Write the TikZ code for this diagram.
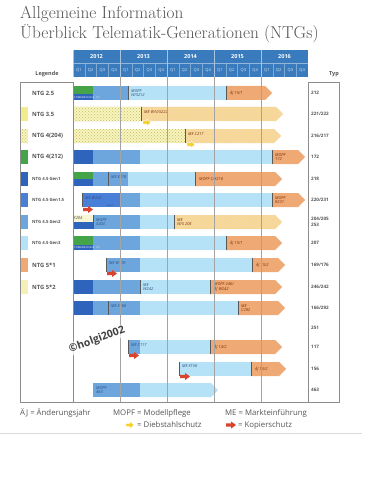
\documentclass[tikz,border=0pt]{standalone}
\usepackage{fontspec}
\setsansfont{Open Sans}
\usetikzlibrary{patterns}

\definecolor{kopfblau}{HTML}{3A7BBE}
\definecolor{gruen}{HTML}{45A447}
\definecolor{dunkelblau}{HTML}{2F64BD}
\definecolor{blau}{HTML}{4A7FD8}
\definecolor{mittelblau}{HTML}{6DA6DD}
\definecolor{hellblau}{HTML}{B5E2F6}
\definecolor{pforange}{HTML}{EFA974}
\definecolor{gelb}{HTML}{F3EC8E}
\definecolor{pfirsich}{HTML}{F7D6A0}
\definecolor{creme}{HTML}{F5EFB8}
\definecolor{kopierrot}{HTML}{D9442F}
\definecolor{diebgelb}{HTML}{F5CF2A}
\definecolor{textgrau}{HTML}{555555}
\definecolor{linie}{HTML}{8C8C8C}
\definecolor{markeblau}{HTML}{2F4C7E}
\definecolor{markerot}{HTML}{7A2F10}

% Balken, Pfeile, Trennstriche
\newcommand{\balken}[4]{\fill[#4] (#1,#3-7) rectangle (#2,#3+7);}
\newcommand{\pfeilbalken}[4]{\fill[#4] (#1,#3-7) -- (#2-7,#3-7) -- (#2,#3) -- (#2-7,#3+7) -- (#1,#3+7) -- cycle;}
\newcommand{\trenner}[2]{\draw[trenn] (#1,#2-7) -- (#1,#2+7);}
\newcommand{\kopierschutz}[2]{\fill[kopierrot] (#1-5,#2-1.7) -- (#1,#2-1.7) -- (#1,#2-3.6) -- (#1+5,#2) -- (#1,#2+3.6) -- (#1,#2+1.7) -- (#1-5,#2+1.7) -- cycle;}
\newcommand{\diebstahl}[2]{\filldraw[diebgelb, draw=white, line width=0.4pt] (#1-4,#2-1.6) -- (#1,#2-1.6) -- (#1,#2-3.5) -- (#1+4,#2) -- (#1,#2+3.5) -- (#1,#2+1.6) -- (#1-4,#2+1.6) -- cycle;}

\tikzset{
  schraffur/.style={pattern=crosshatch dots, pattern color=#1},
  trenn/.style={draw=black!65, line width=0.8pt},
  jahr/.style={font=\sffamily\bfseries\fontsize{5.5}{6}\selectfont, text=white, inner sep=0pt},
  quartal/.style={font=\sffamily\fontsize{4}{5}\selectfont, text=white!85!kopfblau, inner sep=0pt},
  legtext/.style={font=\sffamily\bfseries\fontsize{5.8}{6.5}\selectfont, text=textgrau, anchor=west, inner sep=0pt},
  legklein/.style={legtext, font=\sffamily\bfseries\fontsize{4.3}{5}\selectfont},
  typtext/.style={font=\sffamily\bfseries\fontsize{4.6}{5.6}\selectfont, text=textgrau, anchor=west, align=left, inner sep=0pt},
  marke/.style={font=\sffamily\itshape\fontsize{4}{4.6}\selectfont, anchor=west, align=left, inner sep=0pt, text=markeblau},
  markeor/.style={marke, text=markerot},
  winzig/.style={font=\sffamily\fontsize{2.6}{3}\selectfont, anchor=west, inner sep=0pt, text=white},
  fuss/.style={font=\sffamily\fontsize{7.8}{9}\selectfont, text=textgrau, anchor=west, inner sep=0pt},
}

\begin{document}
\begin{tikzpicture}[x=1pt,y=-1pt]

  % Rahmen
  \useasboundingbox (0,0) rectangle (375,500);
  \fill[white] (0,0) rectangle (375,500);

  % Titel
  \node[anchor=west, inner sep=0pt, text=textgrau, font=\fontsize{17.3}{19}\selectfont] (titel1) at (20,14) {Allgemeine Information};
  \node[anchor=west, inner sep=0pt, text=textgrau, font=\fontsize{17.3}{19}\selectfont] (titel2) at (20,34) {Überblick Telematik-Generationen (NTGs)};

  % Kopfzeile Jahre / Quartale
  \fill[kopfblau] (73,50) rectangle (308,77);
  \draw[white!45!kopfblau, line width=0.5pt] (73,63.5) -- (308,63.5);
  \foreach \n in {1,...,19}
    \draw[white!35!kopfblau, line width=0.3pt] (73+11.75*\n,64) -- (73+11.75*\n,77);
  \foreach \j [count=\k from 0] in {2012,...,2016} {
    \node[jahr] (j\j) at (96.5+47*\k,57) {\j};
    \draw[white!55!kopfblau, line width=0.5pt] (73+47*\k,50) -- (73+47*\k,77);
    \foreach \q in {1,...,4}
      \node[quartal] (q\j\q) at (73+47*\k+11.75*\q-5.875,70.5) {Q\q};
  }
  \node[font=\sffamily\bfseries\fontsize{5.5}{6}\selectfont, text=textgrau] (legende) at (47,74.5) {Legende};
  \node[font=\sffamily\bfseries\fontsize{5.5}{6}\selectfont, text=textgrau] (typ) at (334,74.5) {Typ};

  % Legende
  \fill[white] (21,86) rectangle (28,100);
  \fill[gelb] (21,107) rectangle (28,121);
  \fill[gelb!60!white] (21,129) rectangle (28,143);
  \fill[schraffur=gelb!80!black] (21,129) rectangle (28,143);
  \fill[gruen] (21,150) rectangle (28,164);
  \fill[dunkelblau] (21,172) rectangle (28,186);
  \fill[blau] (21,193) rectangle (28,207);
  \fill[mittelblau] (21,215) rectangle (28,229);
  \fill[hellblau] (21,236) rectangle (28,250);
  \fill[pforange] (21,258) rectangle (28,272);
  \fill[creme] (21,280) rectangle (28,294);
  \foreach \y/\name in {93/NTG 2.5, 114/NTG 3.5, 136/NTG 4(204), 157/NTG 4(212), 265/NTG 5*1, 287/NTG 5*2}
    \node[legtext] (leg\y) at (32,\y) {\name};
  \foreach \y/\name in {179/NTG 4.5 Gen1, 200/NTG 4.5 Gen1.5, 222/NTG 4.5 Gen2, 243/NTG 4.5 Gen3}
    \node[legklein] (leg\y) at (32,\y) {\name};

  % Typ
  \foreach \y/\t in {93/212, 114/{221/222}, 136/{216/217}, 157/172, 179/218, 200/{220/231},
                     243/207, 265/{169/176}, 287/{246/242}, 308/{166/292}, 328/251, 347/117, 369/156, 390/463}
    \node[typtext] (typ\y) at (311,\y) {\t};
  \node[typtext] (typ222) at (311,222) {204/205\\253};

  % NTG 2.5
  \balken{73}{226}{93}{hellblau}
  \balken{73}{128}{93}{mittelblau}
  \fill[gruen] (73,86) rectangle (93,94.5);
  \fill[dunkelblau] (73,94.5) rectangle (93,100);
  \node[winzig] (c1) at (74,97.3) {COMAND Online};
  \node[winzig, text=white!70!mittelblau] (c1b) at (96,97.3) {5m};
  \trenner{128}{93}
  \node[marke] (m1) at (131,93) {MOPF\\W/S212};
  \pfeilbalken{226}{272}{93}{pforange}
  \trenner{226}{93}
  \node[markeor] (a1) at (230,93) {ÄJ 15/1};

  % NTG 3.5
  \balken{73}{141}{114}{gelb!60!white}
  \balken{73}{141}{114}{schraffur=gelb!80!black}
  \pfeilbalken{141}{283}{114}{pfirsich}
  \pfeilbalken{141}{283}{114}{schraffur=gelb!90!orange}
  \trenner{141}{114}
  \node[markeor] (m2) at (144,112) {ME W/V/X222};
  \diebstahl{147}{122.5}

  % NTG 4(204)
  \balken{73}{185}{136}{gelb!60!white}
  \balken{73}{185}{136}{schraffur=gelb!80!black}
  \pfeilbalken{185}{281}{136}{pfirsich}
  \pfeilbalken{185}{281}{136}{schraffur=gelb!90!orange}
  \trenner{185}{136}
  \node[markeor] (m3) at (188,134) {ME C217};
  \diebstahl{191}{144.5}

  % NTG 4(212)
  \balken{73}{272}{157}{hellblau}
  \balken{73}{140}{157}{mittelblau}
  \balken{73}{93}{157}{dunkelblau}
  \pfeilbalken{272}{305}{157}{pforange}
  \trenner{272}{157}
  \node[markeor] (m4) at (275,157) {MOPF\\172};

  % NTG 4.5 Gen1
  \balken{73}{195}{179}{hellblau}
  \balken{73}{128}{179}{mittelblau}
  \fill[gruen] (73,172) rectangle (93,179);
  \fill[dunkelblau] (73,179) rectangle (93,186);
  \trenner{108}{179}
  \node[marke] (m5) at (111,177) {ME E218};
  \pfeilbalken{195}{282}{179}{pforange}
  \trenner{195}{179}
  \node[markeor] (a5) at (199,179) {MOPF C/X218};

  % NTG 4.5 Gen1.5
  \balken{82}{272}{200}{hellblau}
  \balken{82}{140}{200}{mittelblau}
  \balken{82}{120}{200}{blau}
  \trenner{82}{200}
  \node[marke] (m6) at (85,198) {ME W222};
  \node[winzig, text=markeblau] (g6) at (107,205.5) {Gen1};
  \kopierschutz{88}{209.5}
  \pfeilbalken{272}{305}{200}{pforange}
  \trenner{272}{200}
  \node[markeor] (a6) at (275,200) {MOPF\\R231};

  % NTG 4.5 Gen2
  \balken{73}{174}{222}{hellblau}
  \balken{93}{140}{222}{mittelblau}
  \fill[creme!60!white] (73,215) rectangle (93,222);
  \fill[dunkelblau] (73,222) rectangle (93,229);
  \node[marke, text=black!70] (x7) at (73.5,218.5) {X204};
  \trenner{93}{222}
  \node[marke] (m7) at (96,222) {MOPF\\X204};
  \pfeilbalken{174}{282}{222}{pfirsich}
  \pfeilbalken{174}{282}{222}{schraffur=gelb!90!orange}
  \trenner{174}{222}
  \node[markeor] (a7) at (177,222) {ME\\W/S 205};

  % NTG 4.5 Gen3
  \balken{73}{226}{243}{hellblau}
  \balken{73}{140}{243}{mittelblau}
  \fill[gruen] (73,236) rectangle (93,244.5);
  \fill[dunkelblau] (73,244.5) rectangle (93,250);
  \node[winzig] (c8) at (74,247.3) {COMAND Online};
  \node[winzig, text=white!70!mittelblau] (c8b) at (96,247.3) {5m};
  \pfeilbalken{226}{282}{243}{pforange}
  \trenner{226}{243}
  \node[markeor] (a8) at (230,243) {ÄJ 15/1};

  % NTG 5*1
  \balken{106}{252}{265}{hellblau}
  \balken{106}{140}{265}{mittelblau}
  \trenner{106}{265}
  \node[marke] (m9) at (109,263) {ME W176};
  \kopierschutz{112}{273.5}
  \pfeilbalken{252}{285}{265}{pforange}
  \trenner{252}{265}
  \node[markeor] (a9) at (256,265) {ÄJ 15/2};

  % NTG 5*2
  \balken{73}{210}{287}{hellblau}
  \balken{73}{140}{287}{mittelblau}
  \balken{73}{93}{287}{dunkelblau}
  \trenner{140}{287}
  \node[marke] (m10) at (143,287) {ME\\W242};
  \pfeilbalken{210}{282}{287}{pforange}
  \trenner{210}{287}
  \node[markeor] (a10) at (214,287) {MOPF 246/\\ÄJ W242};

  % 166/292
  \balken{73}{238}{308}{hellblau}
  \balken{73}{140}{308}{mittelblau}
  \balken{73}{93}{308}{dunkelblau}
  \trenner{108}{308}
  \node[marke] (m11) at (111,306) {ME X166};
  \pfeilbalken{238}{285}{308}{pforange}
  \trenner{238}{308}
  \node[markeor] (a11) at (241,308) {ME\\C292};

  % 117
  \balken{128}{210}{347}{hellblau}
  \balken{128}{140}{347}{mittelblau}
  \trenner{128}{347}
  \node[marke] (m13) at (131,345) {ME C117};
  \kopierschutz{134}{355.5}
  \pfeilbalken{210}{282}{347}{pforange}
  \trenner{210}{347}
  \node[markeor] (a13) at (214,347) {ÄJ 14/2};

  % 156
  \balken{179}{251}{369}{hellblau}
  \trenner{179}{369}
  \node[marke] (m14) at (182,366) {ME X156};
  \kopierschutz{185}{376.5}
  \pfeilbalken{251}{286}{369}{pforange}
  \trenner{251}{369}
  \node[markeor] (a14) at (255,369) {ÄJ 15/2};

  % 463
  \pfeilbalken{140}{218}{390}{hellblau}
  \balken{93}{140}{390}{mittelblau}
  \node[marke] (m15) at (96,390) {MOPF\\463};

  % Gitter und Rahmen
  \foreach \x in {120,167,214,261}
    \draw[linie!80, line width=0.5pt] (\x,77) -- (\x,402);
  \draw[linie, line width=0.6pt] (20,82) rectangle (73,402);
  \draw[linie, line width=0.6pt] (308,82) rectangle (339,402);
  \draw[linie, line width=0.6pt] (73,402) -- (308,402);

  % Wasserzeichen
  \node[rotate=20, font=\sffamily\bfseries\fontsize{10.5}{12}\selectfont, text=black!75, fill=white, fill opacity=0.75, text opacity=1, inner sep=1pt] (wasserzeichen) at (97,340) {©holgi2002};

  % Fusszeile
  \node[fuss] (f1) at (20,413) {ÄJ = Änderungsjahr};
  \node[fuss] (f2) at (113,413) {MOPF = Modellpflege};
  \node[fuss] (f3) at (225,413) {ME = Markteinführung};
  \diebstahl{130}{425}
  \node[fuss] (f4) at (137,425) {= Diebstahlschutz};
  \kopierschutz{231}{425}
  \node[fuss] (f5) at (238,425) {= Kopierschutz};
  \draw[black!15, line width=0.5pt] (0,433) -- (362,433);

\end{tikzpicture}
\end{document}
